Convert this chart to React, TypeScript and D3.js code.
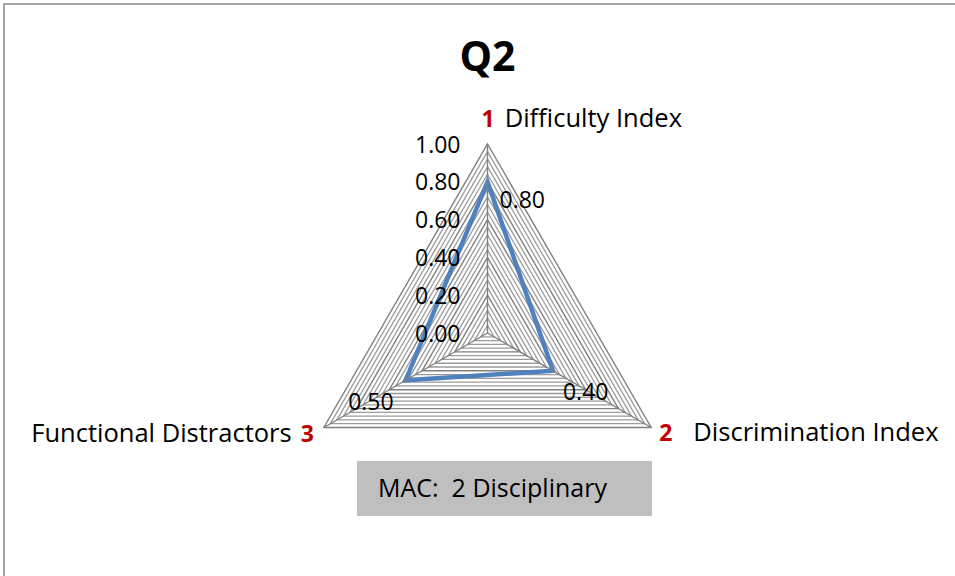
import { useEffect, useRef } from 'react'
import * as d3 from 'd3'

const categories = ['Difficulty Index', 'Discrimination Index', 'Functional Distractors']
const categoryNumbers = ['1', '2', '3']
const values = [0.8, 0.4, 0.5]
const valueLabels = ['0.80', '0.40', '0.50']
const tickValues = [0, 0.2, 0.4, 0.6, 0.8, 1.0]
const tickLabels = ['0.00', '0.20', '0.40', '0.60', '0.80', '1.00']
const titleText = 'Q2'
const boxText = 'MAC:  2 Disciplinary'

const FONT = "'Open Sans', 'Liberation Sans', sans-serif"

export default function App() {
  const ref = useRef<SVGSVGElement | null>(null)

  useEffect(() => {
    const width = 955
    const height = 576
    const cx = 487.5
    const cy = 333
    const R = 189

    const svg = d3.select(ref.current)
    svg.selectAll('*').remove()

    // outer chart border (runs past the right and bottom edges)
    svg.append('rect')
      .attr('x', 4).attr('y', 4)
      .attr('width', width + 20).attr('height', height + 20)
      .attr('fill', 'white')
      .attr('stroke', '#868686')
      .attr('stroke-width', 1.5)

    const r = d3.scaleLinear().domain([0, 1]).range([0, R])
    const n = categories.length
    const angle = (i: number) => (i * 2 * Math.PI) / n
    const pt = (i: number, v: number): [number, number] => [
      cx + r(v) * Math.sin(angle(i)),
      cy - r(v) * Math.cos(angle(i))
    ]

    const g = svg.append('g').attr('transform', `translate(${cx},${cy})`)

    const ring = d3.lineRadial<number>()
      .angle((_, i) => angle(i))
      .radius(d => r(d))
      .curve(d3.curveLinearClosed)

    // minor gridlines
    const minor = d3.range(1, 26).map(k => k * 0.04).filter(v => Math.abs(v * 5 - Math.round(v * 5)) > 1e-6)
    g.selectAll('path.minor')
      .data(minor)
      .enter().append('path')
      .attr('class', 'minor')
      .attr('d', v => ring(categories.map(() => v)))
      .attr('fill', 'none')
      .attr('stroke', '#9c9c9c')
      .attr('stroke-width', 1.3)

    // major gridlines
    g.selectAll('path.major')
      .data(tickValues.filter(v => v > 0))
      .enter().append('path')
      .attr('class', 'major')
      .attr('d', v => ring(categories.map(() => v)))
      .attr('fill', 'none')
      .attr('stroke', '#808080')
      .attr('stroke-width', 1.4)

    // spokes
    categories.forEach((_, i) => {
      const [x, y] = pt(i, 1)
      svg.append('line')
        .attr('x1', cx).attr('y1', cy)
        .attr('x2', x).attr('y2', y)
        .attr('stroke', '#808080')
        .attr('stroke-width', 1.4)
    })

    // tick labels along the first axis
    svg.selectAll('text.tick')
      .data(tickValues)
      .enter().append('text')
      .attr('class', 'tick')
      .attr('x', cx - 27)
      .attr('y', v => cy - r(v) + 8.5)
      .attr('text-anchor', 'end')
      .style('font-family', FONT)
      .style('font-size', '23px')
      .attr('fill', '#000')
      .text((_, i) => tickLabels[i])

    // series
    g.append('path')
      .attr('d', ring(values))
      .attr('fill', 'none')
      .attr('stroke', '#4f81bd')
      .attr('stroke-width', 4.5)
      .attr('stroke-linejoin', 'miter')

    // data labels
    const labelPos = [
      { dx: 12, dy: 26, anchor: 'start' },
      { dx: 10, dy: 29, anchor: 'start' },
      { dx: -12, dy: 30, anchor: 'end' }
    ]
    values.forEach((v, i) => {
      const [x, y] = pt(i, v)
      svg.append('text')
        .attr('x', x + labelPos[i].dx)
        .attr('y', y + labelPos[i].dy)
        .attr('text-anchor', labelPos[i].anchor)
        .style('font-family', FONT)
        .style('font-size', '23px')
        .attr('fill', '#000')
        .text(valueLabels[i])
    })

    // category labels
    const catPos = [
      { dx: -6, dy: -17, anchor: 'start', numFirst: true, gap: 10 },
      { dx: 8, dy: 13, anchor: 'start', numFirst: true, gap: 21 },
      { dx: -10, dy: 14, anchor: 'end', numFirst: false, gap: 9 }
    ]
    categories.forEach((c, i) => {
      const [x, y] = pt(i, 1)
      const p = catPos[i]
      const t = svg.append('text')
        .attr('x', x + p.dx)
        .attr('y', y + p.dy)
        .attr('text-anchor', p.anchor)
        .style('font-family', FONT)
        .style('font-size', '25.5px')
        .attr('fill', '#000')
      const num = (dx: number) => t.append('tspan')
        .attr('dx', dx)
        .style('font-weight', 'bold')
        .style('font-size', '23px')
        .attr('fill', '#c00000')
        .text(categoryNumbers[i])
      if (p.numFirst) {
        num(0)
        t.append('tspan').attr('dx', p.gap).text(c)
      } else {
        t.append('tspan').text(c)
        num(p.gap)
      }
    })

    // title
    svg.append('text')
      .attr('x', cx)
      .attr('y', 71)
      .attr('text-anchor', 'middle')
      .style('font-family', FONT)
      .style('font-size', '41px')
      .style('font-weight', 'bold')
      .attr('fill', '#000')
      .text(titleText)

    // annotation box
    svg.append('rect')
      .attr('x', 357).attr('y', 461)
      .attr('width', 295).attr('height', 55)
      .attr('fill', '#bfbfbf')
    svg.append('text')
      .attr('x', 378)
      .attr('y', 497)
      .style('font-family', FONT)
      .style('font-size', '25px')
      .style('white-space', 'pre')
      .attr('fill', '#000')
      .text(boxText)
  }, [])

  return (
    <svg
      ref={ref}
      width={955}
      height={576}
      style={{ position: 'absolute', left: 0, top: 0 }}
    />
  )
}
